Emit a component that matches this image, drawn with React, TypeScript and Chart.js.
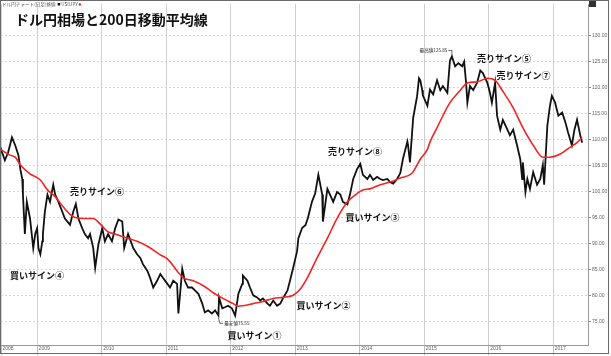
import React, { useEffect, useRef } from "react";
import { Chart, registerables } from "chart.js";

Chart.register(...registerables);

// ---------- DATA ----------
const titleText = "ドル円相場と200日移動平均線";
const headerText = "ドル円チャート(日足)終値";
const seriesName = "USDJPY";

const xStartLabel = "2008";
const xTickYears = [2009, 2010, 2011, 2012, 2013, 2014, 2015, 2016, 2017];
const yTickValues = [75, 80, 85, 90, 95, 100, 105, 110, 115, 120, 125, 130];

// USD/JPY closing price (decimal year, yen)
const priceYears = [
  2008.43, 2008.5, 2008.55, 2008.61, 2008.66, 2008.71, 2008.74, 2008.77, 2008.78, 2008.81, 2008.84, 2008.89, 2008.94, 2008.97,
  2009.0, 2009.02, 2009.05, 2009.08, 2009.09, 2009.12, 2009.16, 2009.2, 2009.25, 2009.28, 2009.33, 2009.39, 2009.43, 2009.51, 2009.56, 2009.6, 2009.64, 2009.7, 2009.74, 2009.79, 2009.82, 2009.87, 2009.9, 2009.95,
  2010.01, 2010.05, 2010.1, 2010.16, 2010.21, 2010.26, 2010.32, 2010.35, 2010.41, 2010.49, 2010.55, 2010.6, 2010.64, 2010.71, 2010.75, 2010.8, 2010.86, 2010.91, 2010.95,
  2011.02, 2011.06, 2011.11, 2011.17, 2011.19, 2011.25, 2011.29, 2011.34, 2011.4, 2011.45, 2011.5, 2011.56, 2011.6, 2011.65, 2011.71, 2011.76, 2011.81, 2011.82, 2011.87, 2011.91, 2011.96,
  2012.02, 2012.07, 2012.12, 2012.18, 2012.19, 2012.26, 2012.3, 2012.35, 2012.41, 2012.46, 2012.5, 2012.57, 2012.61, 2012.66, 2012.72, 2012.77, 2012.81, 2012.88, 2012.92, 2012.97,
  2013.03, 2013.05, 2013.11, 2013.16, 2013.2, 2013.26, 2013.31, 2013.36, 2013.42, 2013.43, 2013.5, 2013.54, 2013.59, 2013.65, 2013.7, 2013.74, 2013.81, 2013.85, 2013.9, 2013.96,
  2014.01, 2014.05, 2014.12, 2014.16, 2014.21, 2014.27, 2014.32, 2014.36, 2014.43, 2014.47, 2014.52, 2014.58, 2014.63, 2014.67, 2014.74, 2014.75, 2014.78, 2014.83, 2014.89, 2014.92, 2014.94, 2014.97, 2014.98,
  2015.05, 2015.09, 2015.14, 2015.2, 2015.25, 2015.29, 2015.36, 2015.4, 2015.43, 2015.48, 2015.53, 2015.59, 2015.62, 2015.65, 2015.67, 2015.71, 2015.76, 2015.82, 2015.87, 2015.91, 2015.98,
  2016.02, 2016.05, 2016.1, 2016.13, 2016.18, 2016.22, 2016.29, 2016.33, 2016.38, 2016.44, 2016.49, 2016.52, 2016.53, 2016.57, 2016.6, 2016.64, 2016.69, 2016.75, 2016.8, 2016.84, 2016.86, 2016.91, 2016.95, 2016.98,
  2017.03, 2017.08, 2017.14, 2017.19, 2017.23, 2017.29, 2017.33, 2017.37, 2017.42, 2017.45,
];
const priceValues = [
  108.5, 106.0, 107.5, 110.4, 108.9, 107.0, 104.3, 102.4, 99.4, 91.8, 98.0, 94.8, 89.1, 91.8,
  92.9, 89.1, 87.9, 90.4, 91.8, 96.1, 99.4, 98.0, 101.3, 99.4, 98.0, 96.1, 94.8, 93.6, 96.1, 97.6, 94.8, 92.9, 91.8, 91.0, 91.8, 89.1, 85.3, 89.8,
  92.9, 90.4, 91.8, 90.4, 92.9, 94.6, 94.2, 89.1, 91.8, 89.1, 87.9, 87.2, 86.0, 84.7, 83.4, 81.5, 82.8, 84.1, 83.4,
  82.2, 81.5, 82.8, 82.2, 76.5, 85.1, 82.8, 81.5, 81.5, 80.9, 80.3, 78.4, 76.7, 77.1, 76.5, 77.1, 76.1, 79.6, 77.5, 77.7, 78.0,
  77.5, 76.1, 80.3, 82.2, 83.8, 82.8, 81.5, 80.0, 79.6, 79.0, 79.4, 78.4, 78.0, 79.0, 78.0, 78.4, 79.4, 80.9, 82.8, 85.3,
  88.5, 91.0, 93.0, 93.5, 95.0, 98.0, 99.6, 103.2, 99.4, 94.2, 100.5, 99.4, 98.0, 99.9, 99.4, 98.0, 97.5, 99.4, 102.4, 104.3,
  105.3, 103.2, 102.4, 103.2, 102.2, 102.8, 102.4, 102.2, 102.4, 101.8, 101.5, 102.4, 103.5, 106.2, 109.6, 108.9, 105.6, 114.2, 118.3, 121.8, 121.4, 119.5, 118.5,
  116.5, 119.6, 118.7, 121.4, 119.5, 120.3, 119.0, 125.2, 126.0, 124.1, 124.7, 124.1, 125.0, 120.9, 117.1, 120.3, 119.5, 120.9, 123.3, 122.8, 120.9,
  119.0, 117.1, 120.9, 114.6, 111.9, 113.8, 111.9, 110.8, 111.9, 108.9, 106.2, 102.4, 105.6, 99.9, 102.4, 100.5, 103.7, 101.3, 102.4, 105.1, 101.3, 112.7, 116.5, 118.4,
  117.1, 114.6, 115.2, 113.3, 111.4, 108.9, 111.9, 113.8, 110.8, 109.4,
];

// 200-day moving average
const maYears = [
  2008.43, 2008.58, 2008.66, 2008.74, 2008.89,
  2009.05, 2009.16, 2009.28, 2009.4, 2009.51, 2009.59, 2009.78, 2009.87, 2009.98,
  2010.09, 2010.21, 2010.4, 2010.55, 2010.73, 2010.91,
  2011.02, 2011.17, 2011.26, 2011.42, 2011.57, 2011.73, 2011.88,
  2012.04, 2012.12, 2012.19, 2012.35, 2012.5, 2012.66, 2012.81, 2012.97,
  2013.08, 2013.19, 2013.34, 2013.5, 2013.65, 2013.81, 2013.96,
  2014.05, 2014.16, 2014.32, 2014.47, 2014.63, 2014.81, 2014.89, 2014.94,
  2015.05, 2015.09, 2015.2, 2015.4, 2015.56, 2015.67, 2015.82, 2015.98,
  2016.1, 2016.22, 2016.38, 2016.53, 2016.69, 2016.84, 2016.95,
  2017.11, 2017.26, 2017.37, 2017.45,
];
const maValues = [
  108.1, 107.0, 106.6, 105.1, 103.4,
  102.2, 100.3, 99.0, 97.1, 95.6, 95.0, 94.8, 94.8, 93.7,
  92.3, 91.8, 91.0, 90.4, 89.3, 87.8,
  87.0, 84.7, 83.4, 82.8, 81.9, 80.5, 79.4,
  78.4, 77.9, 78.0, 78.4, 78.8, 79.4, 79.6, 80.0,
  81.2, 83.4, 87.2, 91.0, 94.8, 98.0, 99.6,
  100.3, 100.5, 101.3, 101.8, 102.6, 103.5, 105.1, 106.2,
  108.1, 109.5, 112.3, 117.1, 119.5, 120.9, 121.1, 121.8,
  121.4, 119.3, 116.1, 112.3, 108.9, 106.6, 106.6,
  107.2, 108.5, 109.4, 110.4,
];

// signal annotations (text anchored at its left edge, vertical centre)
const signTexts = ["買いサイン④", "売りサイン⑥", "買いサイン①", "買いサイン②", "買いサイン③", "売りサイン⑧", "売りサイン⑤", "売りサイン⑦"];
const signYears = [2008.58, 2009.51, 2011.95, 2013.02, 2013.78, 2013.51, 2015.82, 2016.12];
const signValues = [83.8, 99.9, 72.3, 78.1, 95.0, 107.7, 125.6, 122.4];

const highText = "最高値125.85";
const highTextAt = [2015.36, 127.15];
const highPoint = [2015.43, 126.0];
const lowText = "最安値75.55";
const lowTextAt = [2011.9, 74.6];
const lowPoint = [2011.81, 75.7];

const X_MIN = 2008.44;
const X_MAX = 2017.54;
const Y_MIN = 70.43;
const Y_MAX = 136.1;

const JP = '"Noto Sans CJK JP", "Noto Sans", sans-serif';

const overlayPlugin = {
  id: "overlay",
  afterDatasetsDraw(chart: any) {
    const { ctx } = chart;
    const xs = chart.scales.x;
    const ys = chart.scales.y;
    ctx.save();
    // signal labels
    ctx.fillStyle = "#111";
    ctx.font = `bold 9px ${JP}`;
    ctx.textAlign = "left";
    ctx.textBaseline = "middle";
    signTexts.forEach((t, i) => {
      ctx.fillText(t, xs.getPixelForValue(signYears[i]), ys.getPixelForValue(signValues[i]));
    });
    // extreme value notes
    ctx.font = `4.6px ${JP}`;
    ctx.fillStyle = "#222";
    ctx.strokeStyle = "#333";
    ctx.lineWidth = 0.7;
    const hx = xs.getPixelForValue(highTextAt[0]);
    const hy = ys.getPixelForValue(highTextAt[1]);
    ctx.textAlign = "right";
    ctx.fillText(highText, hx, hy);
    const px = xs.getPixelForValue(highPoint[0]);
    const py = ys.getPixelForValue(highPoint[1]);
    ctx.beginPath();
    ctx.moveTo(hx + 1, hy);
    ctx.lineTo(px, hy);
    ctx.lineTo(px, py - 1);
    ctx.stroke();
    const lx = xs.getPixelForValue(lowTextAt[0]);
    const ly = ys.getPixelForValue(lowTextAt[1]);
    ctx.textAlign = "left";
    ctx.fillText(lowText, lx, ly);
    const qx = xs.getPixelForValue(lowPoint[0]);
    const qy = ys.getPixelForValue(lowPoint[1]);
    ctx.beginPath();
    ctx.moveTo(qx, qy);
    ctx.lineTo(qx + 1.5, ly);
    ctx.lineTo(lx - 1, ly);
    ctx.stroke();
    ctx.restore();
  },
  afterDraw(chart: any) {
    const { ctx } = chart;
    ctx.save();
    // header legend
    ctx.font = `4.6px ${JP}`;
    ctx.fillStyle = "#555";
    ctx.textAlign = "left";
    ctx.textBaseline = "middle";
    ctx.fillText(headerText, 2, 4.5);
    const w = ctx.measureText(headerText).width;
    ctx.fillStyle = "#111";
    ctx.fillRect(w + 4, 3, 2.5, 2.5);
    ctx.fillStyle = "#555";
    ctx.fillText(seriesName, w + 7.5, 4.5);
    const w2 = ctx.measureText(seriesName).width;
    ctx.fillStyle = "#e22";
    ctx.beginPath();
    ctx.arc(w + 9.5 + w2, 4.5, 1.2, 0, Math.PI * 2);
    ctx.fill();
    // top-right box
    ctx.fillStyle = "#333";
    ctx.fillRect(589, 1, 7, 6);
    // title
    ctx.fillStyle = "#111";
    ctx.font = `bold 14px ${JP}`;
    ctx.fillText(titleText, 15, 20);
    // frame
    ctx.strokeStyle = "#6a6a6a";
    ctx.lineWidth = 1;
    ctx.strokeRect(0.5, 0.5, 608, 353);
    ctx.restore();
  },
};

export default function App() {
  const ref = useRef<HTMLCanvasElement>(null);

  useEffect(() => {
    if (!ref.current) return;
    const chart = new Chart(ref.current, {
      type: "line",
      data: {
        datasets: [
          {
            label: "200日移動平均線",
            data: maYears.map((x, i) => ({ x, y: maValues[i] })),
            borderColor: "#f22424",
            borderWidth: 1.6,
            pointRadius: 0,
            cubicInterpolationMode: "monotone",
            fill: false,
          },
          {
            label: seriesName,
            data: priceYears.map((x, i) => ({ x, y: priceValues[i] })),
            borderColor: "#111",
            borderWidth: 1.8,
            pointRadius: 0,
            tension: 0,
            fill: false,
          },
        ],
      },
      options: {
        responsive: false,
        animation: false,
        devicePixelRatio: 1,
        layout: { padding: { left: 1, top: 0, right: 0, bottom: 0 } },
        plugins: {
          legend: { display: false },
          title: { display: false },
          tooltip: { enabled: false },
        },
        scales: {
          x: {
            type: "linear",
            min: X_MIN,
            max: X_MAX,
            afterBuildTicks: (scale: any) => {
              scale.ticks = [{ value: X_MIN }, ...xTickYears.map((v) => ({ value: v }))];
            },
            afterFit: (scale: any) => {
              scale.height = 11;
            },
            ticks: {
              autoSkip: false,
              maxRotation: 0,
              align: "start",
              labelOffset: 1.5,
              padding: -9,
              color: "#666",
              font: { size: 5, family: "Liberation Sans" },
              callback: (v: any) => (v === X_MIN ? xStartLabel : String(Math.round(v))),
            },
            grid: {
              color: "#d0d0d0",
              lineWidth: 1,
              borderDash: [1, 2],
              drawTicks: true,
              tickLength: 10,
              tickColor: "#bbb",
              tickBorderDash: [],
            },
            border: { display: true, color: "#999", dash: [] },
          },
          y: {
            position: "right",
            min: Y_MIN,
            max: Y_MAX,
            afterBuildTicks: (scale: any) => {
              scale.ticks = yTickValues.map((v) => ({ value: v }));
            },
            afterFit: (scale: any) => {
              scale.width = 23;
            },
            ticks: {
              autoSkip: false,
              padding: 1,
              color: "#666",
              font: { size: 5, family: "Liberation Sans" },
              callback: (v: any) => Number(v).toFixed(2),
            },
            grid: {
              color: "#d8d8d8",
              lineWidth: 1,
              borderDash: [1, 2],
              drawTicks: true,
              tickLength: 3,
              tickColor: "#888",
              tickBorderDash: [],
            } as any,
            border: { display: true, color: "#999", dash: [2, 2] },
          },
        },
      } as any,
      plugins: [overlayPlugin],
    });
    return () => chart.destroy();
  }, []);

  return (
    <div style={{ position: "fixed", left: 0, top: 0, width: 611, height: 356, background: "#fff" }}>
      <canvas ref={ref} width={611} height={356} style={{ display: "block" }} />
    </div>
  );
}
